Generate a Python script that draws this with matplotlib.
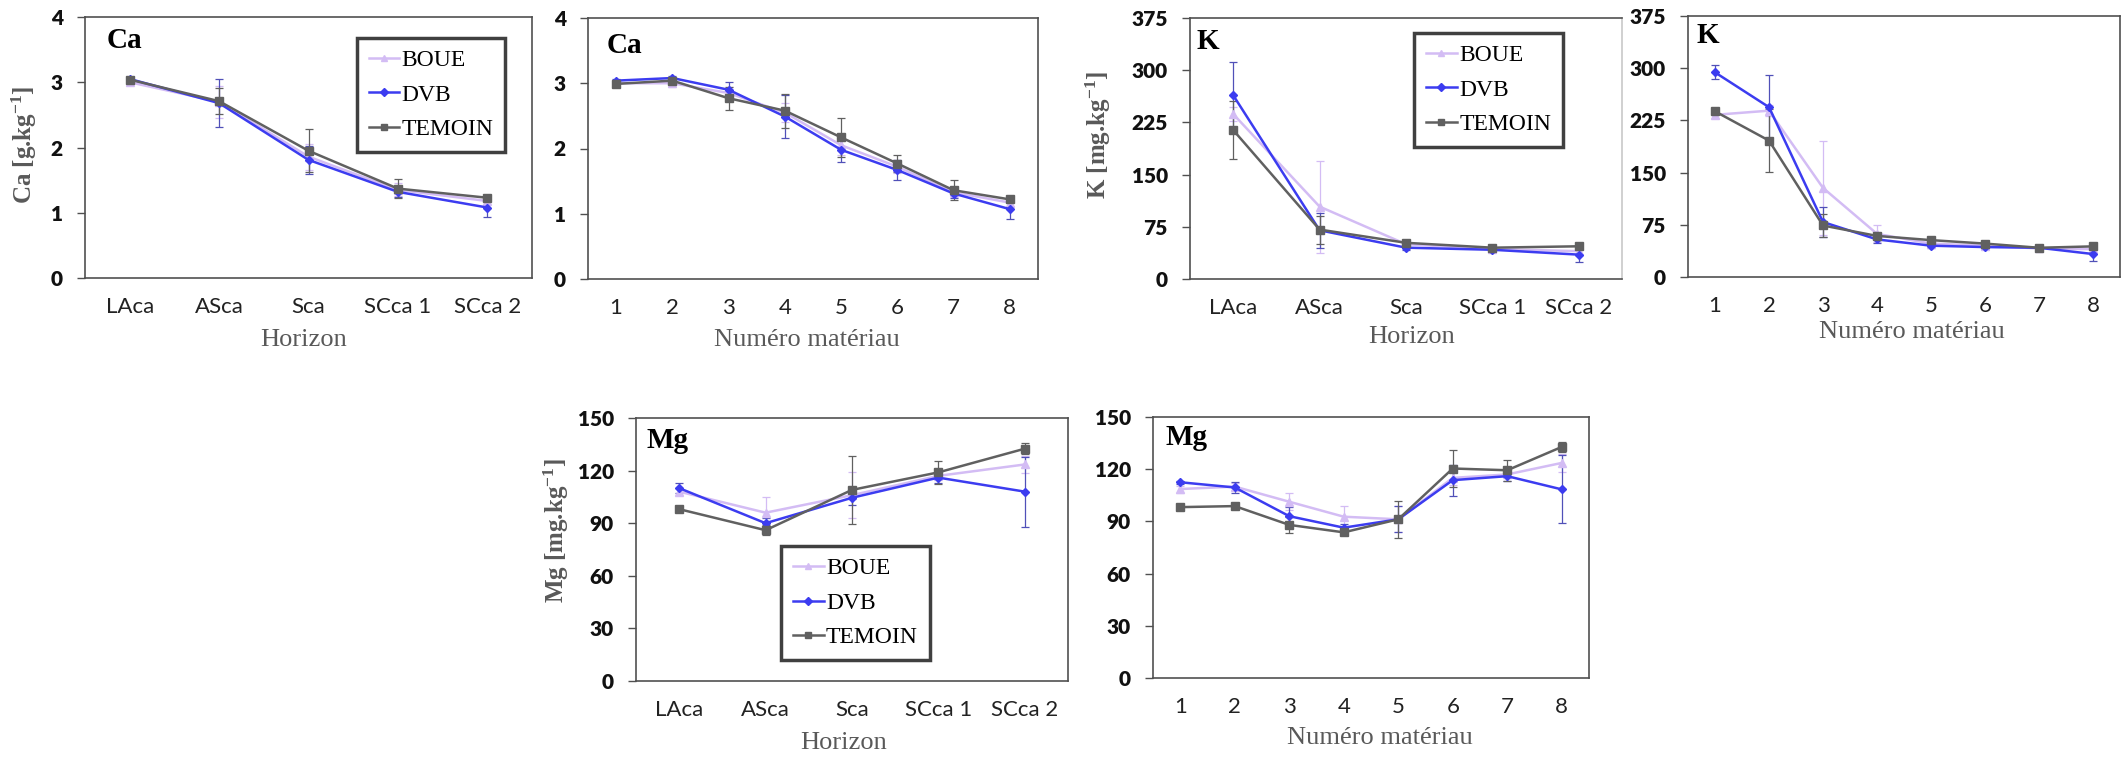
import matplotlib
matplotlib.use("Agg")
import matplotlib.pyplot as plt
import numpy as np

plt.rcParams['mathtext.fontset'] = 'custom'
plt.rcParams['mathtext.rm'] = 'Liberation Serif'
plt.rcParams['mathtext.bf'] = 'Liberation Serif:bold'
plt.rcParams['mathtext.it'] = 'Liberation Serif:italic'

# ---------------- data ----------------
horizons = ["LAca", "ASca", "Sca", "SCca 1", "SCca 2"]
materials = [1, 2, 3, 4, 5, 6, 7, 8]
series = ["BOUE", "DVB", "TEMOIN"]

# Ca by horizon [g/kg]
ca_h_boue = [3.00, 2.70, 1.86, 1.35, 1.18]
ca_h_dvb = [3.05, 2.68, 1.81, 1.32, 1.08]
ca_h_tem = [3.04, 2.71, 1.95, 1.37, 1.23]
ca_h_boue_err = [0.03, 0.25, 0.20, 0.10, 0.05]
ca_h_dvb_err = [0.03, 0.37, 0.22, 0.08, 0.15]
ca_h_tem_err = [0.03, 0.20, 0.33, 0.15, 0.03]

# Ca by material
ca_m_boue = [3.00, 3.00, 2.85, 2.55, 2.05, 1.72, 1.33, 1.17]
ca_m_dvb = [3.04, 3.08, 2.90, 2.49, 1.98, 1.67, 1.31, 1.07]
ca_m_tem = [2.99, 3.04, 2.77, 2.58, 2.17, 1.77, 1.36, 1.22]
ca_m_boue_err = [0.03, 0.05, 0.10, 0.15, 0.15, 0.10, 0.08, 0.05]
ca_m_dvb_err = [0.03, 0.03, 0.12, 0.33, 0.18, 0.16, 0.07, 0.15]
ca_m_tem_err = [0.03, 0.03, 0.18, 0.26, 0.30, 0.13, 0.15, 0.03]

# K by horizon [mg/kg]
k_h_boue = [237, 104, 50, 43, 40]
k_h_dvb = [264, 70, 45, 42, 35]
k_h_tem = [214, 71, 52, 45, 47]
k_h_boue_err = [10, 66, 5, 4, 5]
k_h_dvb_err = [48, 25, 4, 3, 11]
k_h_tem_err = [42, 20, 3, 3, 3]

# K by material
k_m_boue = [233, 239, 128, 62, 48, 45, 41, 40]
k_m_dvb = [294, 244, 79, 54, 45, 43, 42, 33]
k_m_tem = [238, 196, 74, 59, 53, 48, 42, 44]
k_m_boue_err = [5, 8, 68, 12, 4, 3, 4, 4]
k_m_dvb_err = [10, 46, 22, 5, 3, 3, 2, 10]
k_m_tem_err = [3, 45, 17, 3, 2, 2, 2, 2]

# Mg by horizon [mg/kg]
mg_h_boue = [108, 96, 106, 117, 123.5]
mg_h_dvb = [110, 90, 104.5, 116, 108]
mg_h_tem = [98, 86, 109, 119, 132.5]
mg_h_boue_err = [2, 9, 13, 2, 5]
mg_h_dvb_err = [3, 3, 4, 3, 20]
mg_h_tem_err = [1, 3, 19.5, 6.5, 3]

# Mg by material
mg_m_boue = [108.6, 110, 101.3, 92.7, 91.2, 115, 117, 123.6]
mg_m_dvb = [112.5, 109.5, 93, 86.4, 91.2, 113.7, 116, 108.4]
mg_m_tem = [98.2, 98.8, 88, 83.7, 91.2, 120.4, 119.4, 132.8]
mg_m_boue_err = [2, 2, 5, 6, 7.5, 4, 2, 5]
mg_m_dvb_err = [1, 3, 5, 2, 7.5, 9, 3, 19.5]
mg_m_tem_err = [1, 1, 4.5, 1, 10.5, 10.5, 6, 3]

# ---------------- styling ----------------
W, H = 2127, 757
fig = plt.figure(figsize=(W / 100, H / 100), dpi=100)

colors = {"BOUE": "#D3BCF4", "DVB": "#3C3CF0", "TEMOIN": "#606060"}
ecolors = {"BOUE": "#D3BCF4", "DVB": "#5050B8", "TEMOIN": "#606060"}
markers = {"BOUE": "^", "DVB": "D", "TEMOIN": "s"}
msizes = {"BOUE": 6, "DVB": 4.5, "TEMOIN": 6}

serif = "Liberation Serif"
sans = "Lato"


def make_ax(x0, y0, x1, y1):
    return fig.add_axes([x0 / W, 1 - y1 / H, (x1 - x0) / W, (y1 - y0) / H])


def draw(ax, x, vals, errs, xticklabels, xlim, ylim, yticks, title, title_pos,
         xlabel, xlabel_pos, ylabel=None, ylabel_pos=None, legend_pos=None,
         right_spine_color="#505050"):
    handles = []
    for name, v, e in zip(series, vals, errs):
        h = ax.errorbar(x, v, yerr=e, color=colors[name], ecolor=ecolors[name],
                        marker=markers[name], markersize=msizes[name],
                        linewidth=1.8, elinewidth=0.9, capsize=3, capthick=0.9,
                        label=name, zorder=3)
        handles.append(h.lines[0])
    ax.set_xlim(*xlim)
    ax.set_ylim(*ylim)
    ax.set_yticks(yticks)
    ax.set_xticks(x)
    ax.set_xticklabels(xticklabels)
    for lab in ax.get_yticklabels():
        lab.set_fontfamily(sans)
        lab.set_fontweight("heavy")
        lab.set_fontsize(15)
        lab.set_color("#111111")
    for lab in ax.get_xticklabels():
        lab.set_fontfamily(sans)
        lab.set_fontsize(16)
        lab.set_color("#222222")
    ax.tick_params(axis="y", length=6, width=1, color="#505050", pad=10, direction="out")
    ax.tick_params(axis="x", length=0, pad=14)
    for s in ax.spines.values():
        s.set_color("#505050")
        s.set_linewidth(1.2)
    ax.spines["right"].set_color(right_spine_color)
    ax.text(title_pos[0], title_pos[1], title, transform=ax.transAxes,
            fontfamily=serif, fontweight="bold", fontsize=21, va="top", ha="left",
            color="black")
    ax.set_xlabel(xlabel, fontfamily=serif, fontsize=19, color="#595959")
    ax.xaxis.set_label_coords(*xlabel_pos)
    ax.xaxis.label.set_verticalalignment("center")
    if ylabel is not None:
        ax.set_ylabel(ylabel, fontfamily=serif, fontweight="bold", fontsize=18,
                      color="#595959")
        ax.yaxis.set_label_coords(*ylabel_pos)
    if legend_pos is not None:
        leg = ax.legend(handles=handles, labels=series, loc="upper left",
                        bbox_to_anchor=legend_pos, borderaxespad=0, numpoints=1,
                        prop={"family": serif, "size": 17}, fancybox=False,
                        framealpha=1, edgecolor="#404040", handlelength=1.3,
                        handletextpad=0.1, labelspacing=0.55, borderpad=0.5,
                        markerscale=0.8)
        leg.get_frame().set_linewidth(2.5)
        leg.set_zorder(5)


xh = np.arange(len(horizons))
xm = np.array(materials)

# Panel 1: Ca horizon
ax1 = make_ax(85, 17, 532, 278)
draw(ax1, xh, [ca_h_boue, ca_h_dvb, ca_h_tem],
     [ca_h_boue_err, ca_h_dvb_err, ca_h_tem_err], horizons, (-0.5, 4.5), (0, 4),
     [0, 1, 2, 3, 4], "Ca", (0.049, 0.962), "Horizon", (0.49, -0.237),
     ylabel=r"Ca [g.kg$^{\mathbf{-1}}$]", ylabel_pos=(-0.103, 0.51),
     legend_pos=(0.608, 0.920))

# Panel 2: Ca material
ax2 = make_ax(588, 18, 1038, 279)
draw(ax2, xm, [ca_m_boue, ca_m_dvb, ca_m_tem],
     [ca_m_boue_err, ca_m_dvb_err, ca_m_tem_err], [str(m) for m in materials],
     (0.5, 8.5), (0, 4), [0, 1, 2, 3, 4], "Ca", (0.042, 0.946),
     "Numéro matériau", (0.487, -0.234))

# Panel 3: K horizon
ax3 = make_ax(1190, 18, 1622, 279)
draw(ax3, xh, [k_h_boue, k_h_dvb, k_h_tem],
     [k_h_boue_err, k_h_dvb_err, k_h_tem_err], horizons, (-0.5, 4.5), (0, 375),
     [0, 75, 150, 225, 300, 375], "K", (0.016, 0.962), "Horizon", (0.514, -0.222),
     ylabel=r"K [mg.kg$^{\mathbf{-1}}$]", ylabel_pos=(-0.178, 0.55),
     legend_pos=(0.519, 0.943), right_spine_color="#C8C8C8")

# Panel 4: K material
ax4 = make_ax(1688, 16, 2120, 277)
draw(ax4, xm, [k_m_boue, k_m_dvb, k_m_tem],
     [k_m_boue_err, k_m_dvb_err, k_m_tem_err], [str(m) for m in materials],
     (0.5, 8.5), (0, 375), [0, 75, 150, 225, 300, 375], "K", (0.019, 0.977),
     "Numéro matériau", (0.518, -0.21))

# Panel 5: Mg horizon
ax5 = make_ax(636, 418, 1068, 681)
draw(ax5, xh, [mg_h_boue, mg_h_dvb, mg_h_tem],
     [mg_h_boue_err, mg_h_dvb_err, mg_h_tem_err], horizons, (-0.5, 4.5), (0, 150),
     [0, 30, 60, 90, 120, 150], "Mg", (0.025, 0.966), "Horizon", (0.48, -0.236),
     ylabel=r"Mg [mg.kg$^{\mathbf{-1}}$]", ylabel_pos=(-0.150, 0.57),
     legend_pos=(0.336, 0.513))

# Panel 6: Mg material
ax6 = make_ax(1153, 417, 1589, 678)
draw(ax6, xm, [mg_m_boue, mg_m_dvb, mg_m_tem],
     [mg_m_boue_err, mg_m_dvb_err, mg_m_tem_err], [str(m) for m in materials],
     (0.5, 8.5), (0, 150), [0, 30, 60, 90, 120, 150], "Mg", (0.028, 0.973),
     "Numéro matériau", (0.52, -0.23))

fig.savefig("out.png", dpi=100)
